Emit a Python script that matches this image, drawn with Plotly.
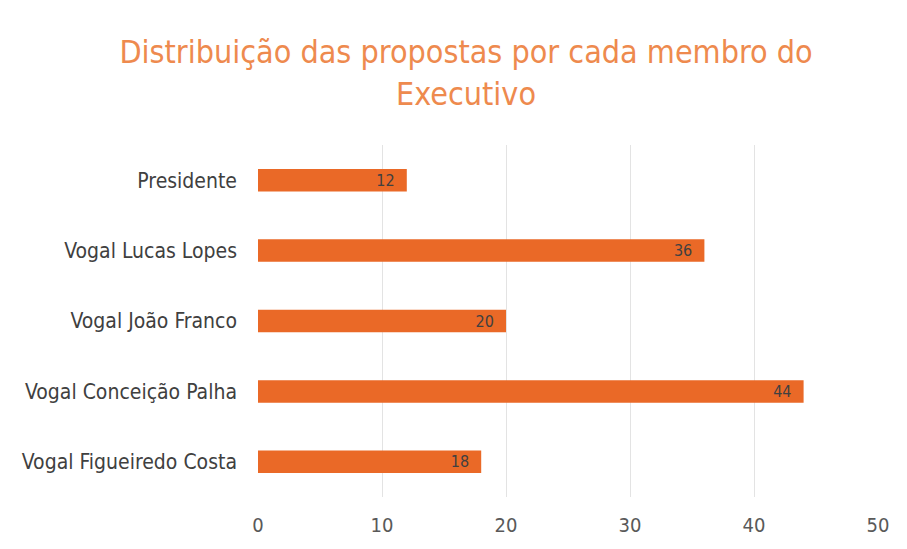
import plotly.graph_objects as go

categories = ["Presidente", "Vogal Lucas Lopes", "Vogal João Franco",
              "Vogal Conceição Palha", "Vogal Figueiredo Costa"]
values = [12, 36, 20, 44, 18]
x_ticks = [0, 10, 20, 30, 40, 50]

FONT = "DejaVu Sans Condensed, Open Sans, sans-serif"

fig = go.Figure(go.Bar(
    x=values, y=categories, orientation="h",
    marker=dict(color="#EA6927", line=dict(width=0)),
    width=0.32,
    text=[f"{v}\u00a0\u00a0" for v in values], textposition="inside",
    insidetextanchor="end", textangle=0, constraintext="none",
    textfont=dict(color="#404040", size=16, family=FONT),
))

fig.update_layout(
    width=907, height=549,
    paper_bgcolor="white", plot_bgcolor="white",
    margin=dict(l=250, r=37, t=137, b=60),
    title=dict(
        text="Distribuição das propostas por cada membro do<br>Executivo",
        x=0.505, xanchor="center", y=0.9, yanchor="top",
        font=dict(family=FONT, size=32, color="#EE8A4E"),
    ),
    showlegend=False,
    font=dict(family=FONT),
)
fig.update_xaxes(
    range=[0, 50], tickvals=x_ticks, showgrid=True,
    gridcolor="#E3E3E3", gridwidth=1, zeroline=False,
    tickfont=dict(size=20, color="#595959"), ticks="", showline=False,
    ticklabelstandoff=14, automargin=False,
)
fig.update_yaxes(
    categoryorder="array", categoryarray=categories, autorange="reversed",
    tickfont=dict(size=21, color="#404040"), ticks="", showline=False,
    ticklabelstandoff=20, automargin=False,
)

fig.write_html("out.html")
